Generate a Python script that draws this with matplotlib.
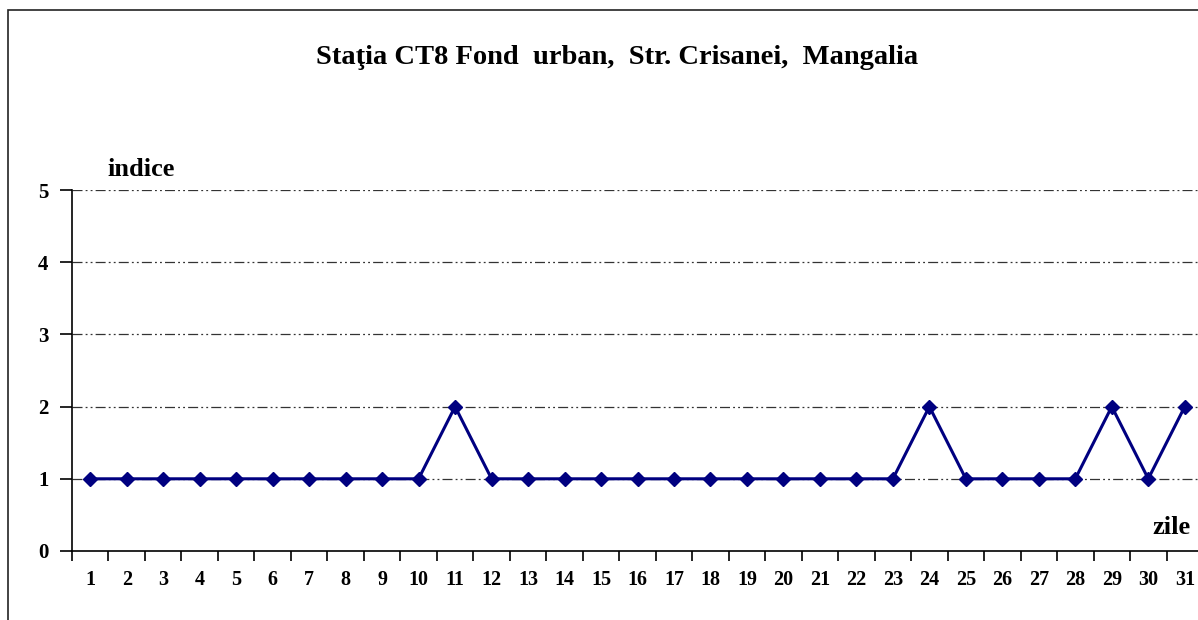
import matplotlib.pyplot as plt
from matplotlib.patches import Rectangle
from matplotlib.ticker import FixedLocator

plt.rcParams['font.family'] = ['Liberation Serif', 'DejaVu Serif']
plt.rcParams['font.weight'] = 'bold'

# date: indicele pe zile
zile = list(range(1, 32))
indice = [1, 1, 1, 1, 1, 1, 1, 1, 1, 1, 2, 1, 1, 1, 1, 1, 1, 1, 1, 1,
          1, 1, 1, 2, 1, 1, 1, 1, 2, 1, 2]
y_ticks = [0, 1, 2, 3, 4, 5]

fig = plt.figure(figsize=(11.98, 6.20), dpi=100)
ax = fig.add_axes([72 / 1198, 1 - 551 / 620, 1131 / 1198, 361 / 620])

# chenarul exterior (taiat la dreapta si jos)
fig.patches.append(Rectangle((8 / 1198, -0.1), 1.2, 1 - 10 / 620 + 0.1,
                             transform=fig.transFigure, fill=False,
                             edgecolor='#222222', linewidth=1.2, clip_on=False))

for y in y_ticks[1:]:
    ax.axhline(y, color='#333333', linewidth=0.9,
               linestyle=(0, (8, 2.5, 1.5, 2.5, 1.5, 2.5)), zorder=1)

ax.plot(zile, indice, color='#000080', linewidth=2.2, marker='D',
        markersize=7.5, zorder=3)

ax.set_xlim(0.5, 31.5)
ax.set_ylim(0, 5)
ax.set_yticks(y_ticks)
ax.set_xticks(zile)
ax.xaxis.set_minor_locator(FixedLocator([z - 0.5 for z in zile]))
ax.tick_params(axis='x', which='major', length=0, pad=14, labelsize=14.5)
ax.tick_params(axis='x', which='minor', length=7, width=1.2, direction='out')
ax.tick_params(axis='y', length=9, width=1.2, pad=8, labelsize=15)

for side in ['top', 'right']:
    ax.spines[side].set_visible(False)
for side in ['left', 'bottom']:
    ax.spines[side].set_linewidth(1.2)

fig.text(617 / 1198, 1 - 57 / 620, 'Staţia CT8 Fond  urban,  Str. Crisanei,  Mangalia',
         ha='center', va='center', fontsize=20.5, fontweight='bold')
fig.text(107 / 1198, 1 - 169 / 620, 'indice', ha='left', va='center',
         fontsize=19, fontweight='bold')
fig.text(1191 / 1198, 1 - 528 / 620, 'zile', ha='right', va='center',
         fontsize=19, fontweight='bold')

plt.savefig('out.png', dpi=100)
